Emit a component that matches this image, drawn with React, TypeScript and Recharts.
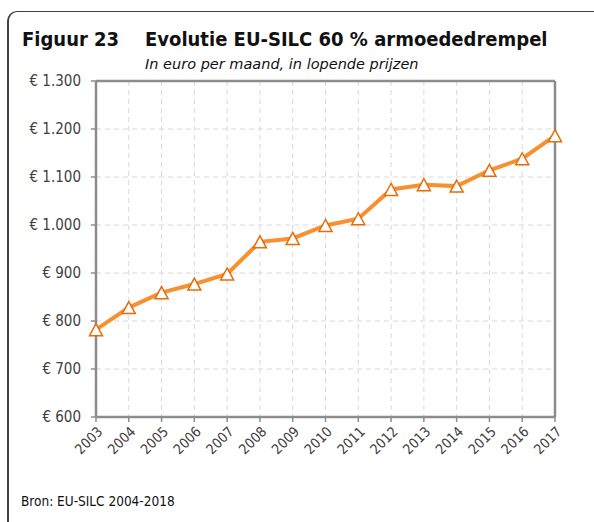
import React from "react";
import { LineChart, Line, XAxis, YAxis, CartesianGrid, ReferenceLine } from "recharts";

const years = ["2003", "2004", "2005", "2006", "2007", "2008", "2009", "2010", "2011", "2012", "2013", "2014", "2015", "2016", "2017"];
const threshold = [782, 828, 859, 877, 898, 965, 972, 999, 1013, 1074, 1084, 1081, 1114, 1138, 1186];
const yTicks = [600, 700, 800, 900, 1000, 1100, 1200, 1300];

const chartData = years.map((year, i) => ({ year, value: threshold[i] }));

const FONT = "'DejaVu Sans Condensed', 'DejaVu Sans', sans-serif";
const WIDE = "'DejaVu Sans', sans-serif";
const AXIS = "#8c8c8c";

function euro(v: number) {
  if (v >= 1000) {
    return `€ ${Math.floor(v / 1000)}.${String(v % 1000).padStart(3, "0")}`;
  }
  return `€ ${v}`;
}

function YearTick(props: any) {
  const { x, y, payload } = props;
  return (
    <text
      transform={`translate(${x + 4},${y + 5}) rotate(-45)`}
      textAnchor="end"
      dominantBaseline="central"
      fontSize={14}
      fill="#404040"
      fontFamily={FONT}
    >
      {payload.value}
    </text>
  );
}

function Triangle(props: any) {
  const { cx, cy } = props;
  if (cx == null || cy == null) return null;
  return (
    <polygon
      points={`${cx},${cy - 6} ${cx + 6.5},${cy + 6} ${cx - 6.5},${cy + 6}`}
      fill="#ffffff"
      stroke="#e46c0a"
      strokeWidth={1.5}
    />
  );
}

export default function App() {
  return (
    <div
      style={{
        position: "absolute",
        left: 0,
        top: 0,
        width: 594,
        height: 522,
        background: "#fff",
        overflow: "hidden",
        fontFamily: FONT,
      }}
    >
      {/* frame: top + left edge with rounded corner */}
      <div
        style={{
          position: "absolute",
          left: 7,
          top: 11,
          width: 620,
          height: 540,
          borderTop: "1.5px solid #404040",
          borderLeft: "2px solid #404040",
          borderTopLeftRadius: 10,
        }}
      />
      <div style={{ position: "absolute", left: 22, top: 27, fontSize: 20, fontWeight: "bold", color: "#111" }}>
        Figuur 23
      </div>
      <div style={{ position: "absolute", left: 145, top: 27, fontSize: 20, fontWeight: "bold", color: "#111" }}>
        Evolutie EU-SILC 60 % armoededrempel
      </div>
      <div style={{ position: "absolute", left: 145, top: 56, fontSize: 14.5, fontStyle: "italic", color: "#111", fontFamily: WIDE }}>
        In euro per maand, in lopende prijzen
      </div>
      <div style={{ position: "absolute", left: 21, top: 493, fontSize: 13.5, color: "#111" }}>
        Bron: EU-SILC 2004-2018
      </div>

      <div style={{ position: "absolute", left: 0, top: 0 }}>
        <LineChart
          width={594}
          height={522}
          data={chartData}
          margin={{ top: 81, right: 39, bottom: 55, left: 0 }}
        >
          <CartesianGrid stroke="#d9d9d9" strokeDasharray="5 4" />
          <XAxis
            dataKey="year"
            height={50}
            interval={0}
            tick={<YearTick />}
            tickSize={5}
            axisLine={{ stroke: AXIS, strokeWidth: 2.5 }}
            tickLine={{ stroke: AXIS, strokeWidth: 1.5 }}
          />
          <YAxis
            width={96}
            domain={[600, 1300]}
            ticks={yTicks}
            interval={0}
            tickFormatter={euro}
            tickSize={5}
            tickMargin={10}
            tick={{ fontSize: 15, fill: "#404040", fontFamily: FONT }}
            axisLine={{ stroke: AXIS, strokeWidth: 2.5 }}
            tickLine={{ stroke: AXIS, strokeWidth: 1.5 }}
          />
          <ReferenceLine y={1300} stroke={AXIS} strokeWidth={2.5} />
          <ReferenceLine x="2017" stroke={AXIS} strokeWidth={2.5} />
          <Line
            type="linear"
            dataKey="value"
            stroke="#f7902f"
            strokeWidth={4}
            dot={<Triangle />}
            activeDot={false}
            isAnimationActive={false}
          />
        </LineChart>
      </div>
    </div>
  );
}
